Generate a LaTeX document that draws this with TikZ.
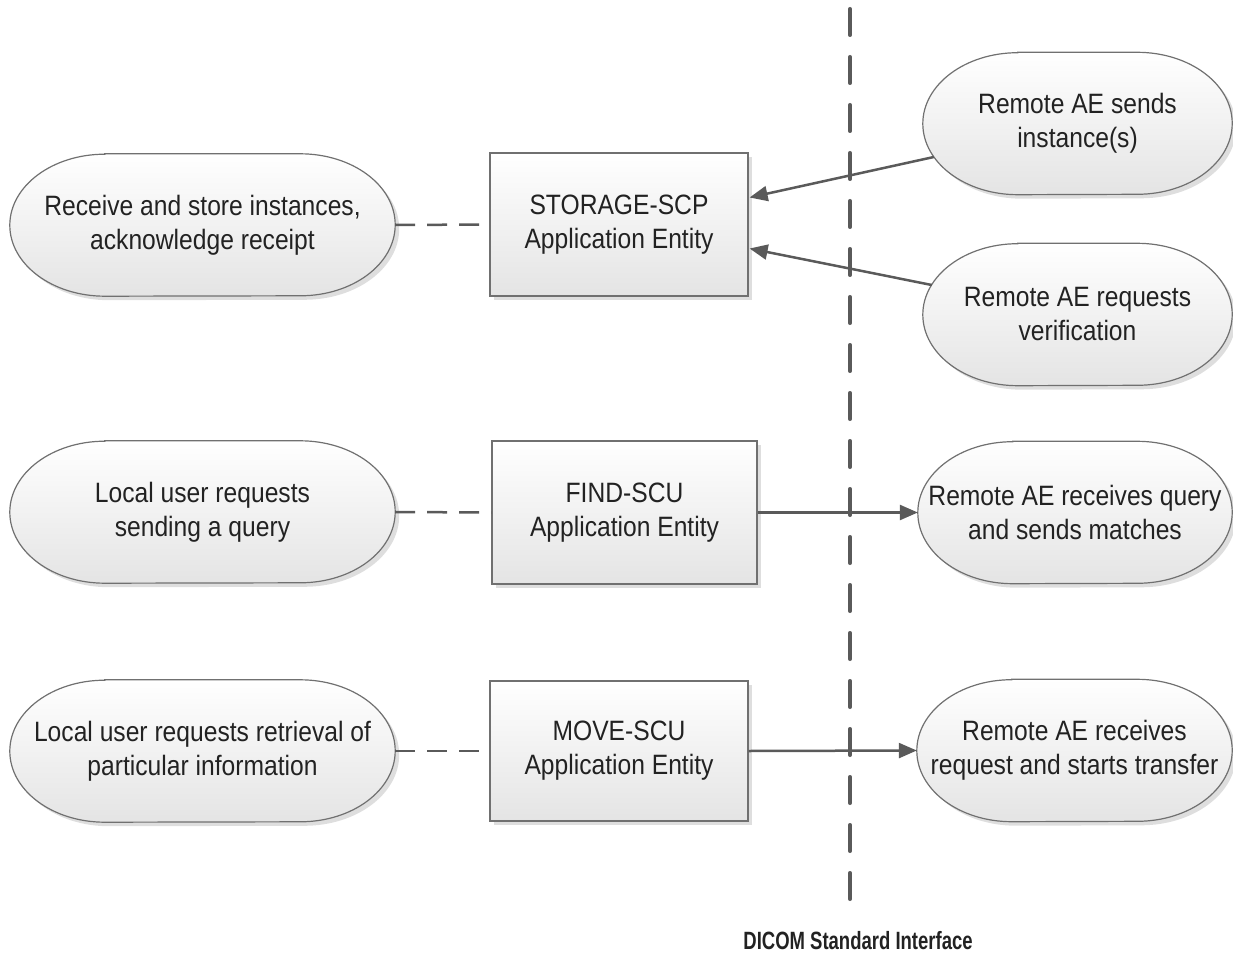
\documentclass[tikz,border=0pt]{standalone}
\usepackage{fontspec}
\setmainfont{Liberation Sans}[FakeStretch=0.88]
\newfontfamily\lblfont{Liberation Sans}[FakeStretch=0.74]
\usetikzlibrary{arrows.meta,calc,shadows,backgrounds}
\definecolor{lineg}{HTML}{5A5A5A}
\definecolor{edgeg}{HTML}{707070}
\definecolor{txt}{HTML}{222222}
\definecolor{fillbot}{HTML}{E4E4E4}
\definecolor{shad}{HTML}{DEDEDE}
\tikzset{
  every node/.style={font=\fontsize{28pt}{34pt}\selectfont, text=txt, align=center},
  term/.style={minimum height=142pt, inner sep=0pt},
  aebox/.style={draw=edgeg, line width=1.2pt, top color=white, bottom color=fillbot,
    drop shadow={shadow xshift=4pt, shadow yshift=-4pt, fill=shad, opacity=1}, inner sep=0pt},
  termshape/.style={draw=edgeg, line width=1.2pt, top color=white, bottom color=fillbot,
    drop shadow={shadow xshift=4pt, shadow yshift=-4pt, fill=shad, opacity=1}},
  conn/.style={draw=lineg, line width=2.5pt, dash pattern=on 20pt off 12pt},
  flow/.style={draw=lineg, line width=2.5pt, -{Triangle[length=18pt,width=15pt]}},
  iface/.style={draw=lineg, line width=3.5pt, line cap=round, dash pattern=on 26.5pt off 21.5pt},
  lbltext/.style={font=\lblfont\bfseries\fontsize{25pt}{30pt}\selectfont},
}
\newcommand\termoutline[1]{%
  \path[termshape] ([xshift=95pt]#1.north west) -- ([xshift=-95pt]#1.north east)
    arc[start angle=90,end angle=-90,x radius=95pt,y radius=71pt]
    -- ([xshift=95pt]#1.south west)
    arc[start angle=270,end angle=90,x radius=95pt,y radius=71pt] -- cycle;}
\begin{document}
\begin{tikzpicture}[x=1pt,y=-1pt]
\useasboundingbox (0,0) rectangle (1233,957);
% left terminators
\node[term, minimum width=385pt] (L1) at (202.5,225) {Receive and store instances,\\acknowledge receipt};
\node[term, minimum width=385pt] (L2) at (202.5,512) {Local user requests\\sending a query};
\node[term, minimum width=385pt] (L3) at (202.5,751) {Local user requests retrieval of\\particular information};
% application entities
\node[aebox, minimum width=258pt, minimum height=143pt] (B1) at (619,224.5) {STORAGE-SCP\\Application Entity};
\node[aebox, minimum width=265pt, minimum height=143pt] (B2) at (624.5,512.5) {FIND-SCU\\Application Entity};
\node[aebox, minimum width=258pt, minimum height=140pt] (B3) at (619,751) {MOVE-SCU\\Application Entity};
% right terminators
\node[term, minimum width=309pt] (R1) at (1077.5,123.5) {Remote AE sends\\instance(s)};
\node[term, minimum width=309pt] (R2) at (1077.5,314.5) {Remote AE requests\\verification};
\node[term, minimum width=314pt] (R3) at (1075,512.5) {Remote AE receives query\\and sends matches};
\node[term, minimum width=315pt] (R4) at (1074.5,750.5) {Remote AE receives\\request and starts transfer};
\begin{scope}[on background layer]
  \termoutline{L1}\termoutline{L2}\termoutline{L3}
  \termoutline{R1}\termoutline{R2}\termoutline{R3}\termoutline{R4}
\end{scope}
% connectors
\draw[conn] (L1.east) -- (B1.west);
\draw[conn] (L2.east) -- (B2.west);
\draw[conn] (L3.east) -- (B3.west);
\draw[flow] ($(R1.west)+(11,33.5)$) -- ($(B1.east)+(1,-27)$);
\draw[flow] ($(R2.west)+(9,-29.5)$) -- ($(B1.east)+(1,24)$);
\draw[flow] (B2.east) -- (R3.west);
\draw[flow] (B3.east) -- (R4.west);
% interface line
\coordinate (itop) at (850,8.75);
\coordinate (ibot) at (850,899.25);
\draw[iface] (itop) -- (ibot);
\node[lbltext] (lbl) at (858,941) {DICOM Standard Interface};
\end{tikzpicture}
\end{document}
